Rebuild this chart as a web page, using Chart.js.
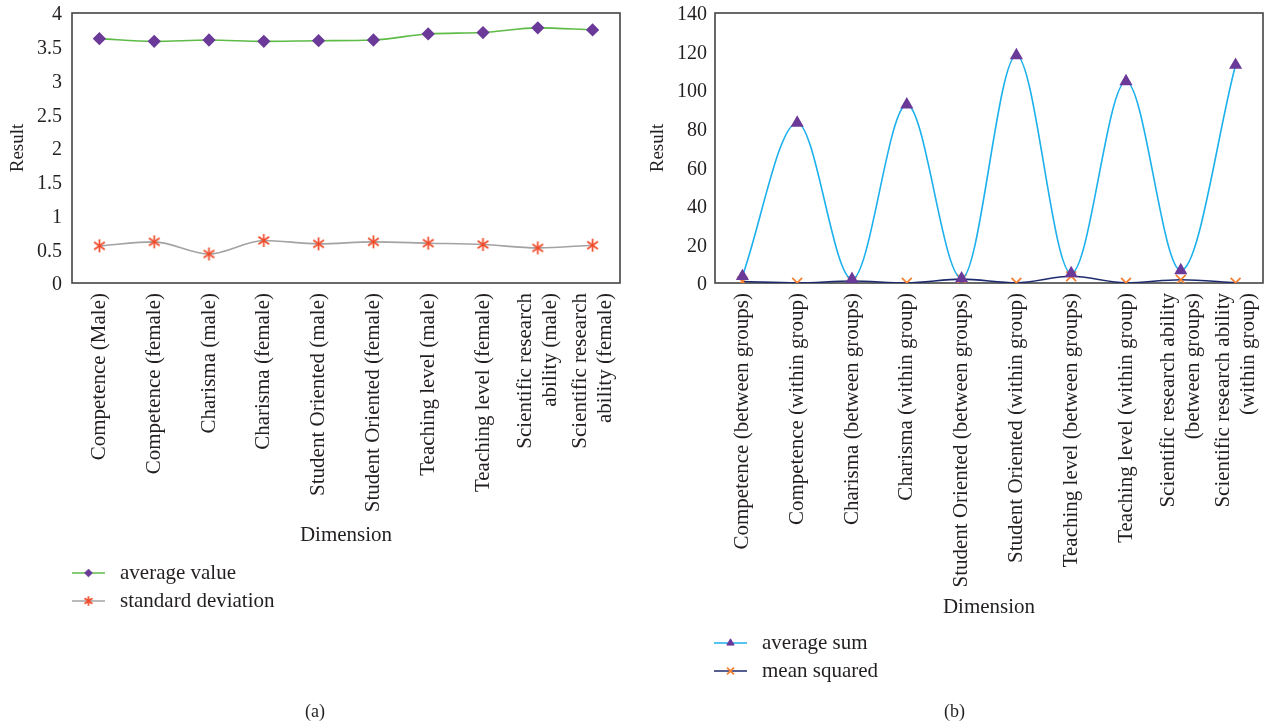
<!DOCTYPE html>
<html>
<head>
<meta charset="utf-8">
<script src="https://cdn.jsdelivr.net/npm/chart.js@4.4.1/dist/chart.umd.min.js"></script>
<style>
  body { margin: 0; background: #fff; width: 1266px; height: 727px; position: relative; overflow: hidden; }
  canvas { position: absolute; top: 0; }
  #leftChart { left: 0; }
  #rightChart { left: 640px; }
  .cap { position: absolute; top: 701px; font: 18px "Liberation Serif", serif; color: #231f20; }
</style>
</head>
<body>
<canvas id="leftChart" width="640" height="727"></canvas>
<canvas id="rightChart" width="626" height="727"></canvas>
<div class="cap" style="left:305px">(a)</div>
<div class="cap" style="left:944px">(b)</div>
<script>
const leftLabels = [
  'Competence (Male)', 'Competence (female)', 'Charisma (male)', 'Charisma (female)',
  'Student Oriented (male)', 'Student Oriented (female)', 'Teaching level (male)',
  'Teaching level (female)', ['Scientific research', 'ability (male)'], ['Scientific research', 'ability (female)']
];
const averageValue = [3.62, 3.58, 3.60, 3.58, 3.59, 3.60, 3.69, 3.71, 3.78, 3.75];
const standardDeviation = [0.55, 0.61, 0.43, 0.63, 0.58, 0.61, 0.59, 0.57, 0.52, 0.56];

const rightLabels = [
  'Competence (between groups)', 'Competence (within group)', 'Charisma (between groups)',
  'Charisma (within group)', 'Student Oriented (between groups)', 'Student Oriented (within group)',
  'Teaching level (between groups)', 'Teaching level (within group)',
  ['Scientific research ability', '(between groups)'], ['Scientific research ability', '(within group)']
];
const averageSum = [3.5, 83, 2, 92.5, 2.3, 118, 5, 104.5, 6.5, 113];
const meanSquared = [0.8, 0.1, 1, 0.1, 2, 0.1, 3.5, 0.1, 1.7, 0.1];

const SERIF = '"Liberation Serif", "Times New Roman", serif';
const TEXT = '#231f20';

// six-armed asterisk marker (an X with a vertical bar)
function asterisk(r, color) {
  const c = document.createElement('canvas');
  const s = Math.ceil(r * 2 + 4);
  c.width = s; c.height = s;
  const g = c.getContext('2d');
  g.strokeStyle = color;
  g.lineWidth = 1.7;
  g.translate(s / 2, s / 2);
  [90, 35, -35].forEach(deg => {
    const a = deg * Math.PI / 180;
    g.beginPath();
    g.moveTo(-Math.cos(a) * r, -Math.sin(a) * r);
    g.lineTo(Math.cos(a) * r, Math.sin(a) * r);
    g.stroke();
  });
  return c;
}
const starBig = asterisk(6.5, '#f04a2a');
const starSmall = asterisk(4.8, '#f04a2a');

// frame round the plot area
const boxPlugin = {
  id: 'box',
  beforeDatasetsDraw(chart) {
    const a = chart.chartArea, ctx = chart.ctx;
    ctx.save();
    ctx.strokeStyle = '#444';
    ctx.lineWidth = 1.6;
    ctx.strokeRect(a.left, a.top, a.right - a.left, a.bottom - a.top);
    ctx.restore();
  }
};

// two-line rotated labels: centre the lines on their tick
const centerLines = {
  id: 'centerLines',
  beforeDraw(chart) {
    const scale = chart.scales.x;
    scale.getLabelItems().forEach(item => {
      if (Array.isArray(item.label) && !item.shifted) {
        item.options.translation[0] -= (item.label.length - 1) * item.font.lineHeight / 2;
        item.shifted = true;
      }
    });
  }
};

// vertical legend under the x axis title
const sideLegend = {
  id: 'sideLegend',
  afterDraw(chart, args, opts) {
    const ctx = chart.ctx;
    ctx.save();
    chart.data.datasets.forEach((ds, i) => {
      const y = opts.y + i * 28;
      const mx = opts.x + 16.5;
      ctx.strokeStyle = ds.borderColor;
      ctx.lineWidth = 1.6;
      ctx.beginPath();
      ctx.moveTo(opts.x, y);
      ctx.lineTo(opts.x + 33, y);
      ctx.stroke();
      if (ds.legendImage) {
        const im = ds.legendImage;
        ctx.drawImage(im, mx - im.width / 2, y - im.height / 2);
      } else {
        ctx.fillStyle = ds.pointBackgroundColor;
        ctx.strokeStyle = ds.pointBorderColor;
        ctx.lineWidth = ds.pointBorderWidth || 1;
        Chart.helpers.drawPoint(ctx, {
          pointStyle: ds.pointStyle, radius: ds.pointRadius * 0.7, borderWidth: ds.pointBorderWidth || 1, rotation: 0
        }, mx, y);
      }
      ctx.fillStyle = TEXT;
      ctx.font = '21px ' + SERIF;
      ctx.textBaseline = 'middle';
      ctx.fillText(ds.label, opts.x + 48, y);
    });
    ctx.restore();
  }
};

function makeOptions(cfg) {
  return {
    responsive: false,
    animation: false,
    layout: { autoPadding: false, padding: { left: 7, top: 13, right: cfg.padRight, bottom: cfg.padBottom } },
    plugins: {
      legend: { display: false },
      tooltip: { enabled: false },
      sideLegend: { x: cfg.legendX, y: cfg.legendY }
    },
    scales: {
      x: {
        type: 'category',
        offset: true,
        grid: { display: false, drawTicks: false },
        border: { display: false },
        afterFit(scale) {
          scale.height = cfg.xHeight;
          scale.paddingLeft = 0;
          scale.paddingRight = 0;
        },
        ticks: {
          autoSkip: false, minRotation: 90, maxRotation: 90, padding: 10,
          color: TEXT, font: { family: SERIF, size: 21 }
        },
        title: { display: true, text: 'Dimension', color: TEXT, padding: 0, font: { family: SERIF, size: 21 } }
      },
      y: {
        min: 0, max: cfg.yMax,
        grid: { display: false, drawTicks: false },
        border: { display: false },
        afterFit(scale) {
          scale.width = cfg.yWidth;
          scale.paddingTop = 0;
          scale.paddingBottom = 0;
        },
        ticks: {
          stepSize: cfg.yStep, padding: cfg.yPad, labelOffset: 2, color: TEXT, font: { family: SERIF, size: 20 },
          callback: v => String(v)
        },
        title: { display: true, text: 'Result', color: TEXT, padding: 0, font: { family: SERIF, size: 19 } }
      }
    }
  };
}

new Chart(document.getElementById('leftChart'), {
  type: 'line',
  data: {
    labels: leftLabels,
    datasets: [
      {
        label: 'average value', data: averageValue,
        borderColor: '#5dbb46', borderWidth: 1.6, cubicInterpolationMode: 'monotone',
        pointStyle: 'rectRot', pointRadius: 5.5, pointBackgroundColor: '#6b3a99', pointBorderColor: '#6b3a99'
      },
      {
        label: 'standard deviation', data: standardDeviation,
        borderColor: '#a3a3a3', borderWidth: 1.6, cubicInterpolationMode: 'monotone',
        pointStyle: starBig, pointRadius: 7, legendImage: starSmall,
        pointBackgroundColor: '#f04a2a', pointBorderColor: '#f04a2a'
      }
    ]
  },
  options: makeOptions({
    padRight: 20, padBottom: 179, xHeight: 265, yMax: 4, yStep: 0.5, yWidth: 65, yPad: 10,
    legendX: 72, legendY: 573
  }),
  plugins: [boxPlugin, centerLines, sideLegend]
});

new Chart(document.getElementById('rightChart'), {
  type: 'line',
  data: {
    labels: rightLabels,
    datasets: [
      {
        label: 'average sum', data: averageSum,
        borderColor: '#1cb0ec', borderWidth: 1.6, cubicInterpolationMode: 'monotone',
        pointStyle: 'triangle', pointRadius: 6, pointBackgroundColor: '#6b3a99', pointBorderColor: '#6b3a99'
      },
      {
        label: 'mean squared', data: meanSquared,
        borderColor: '#1d2a6e', borderWidth: 1.6, cubicInterpolationMode: 'monotone',
        pointStyle: 'crossRot', pointRadius: 7, pointBorderWidth: 1.8,
        pointBackgroundColor: '#f58233', pointBorderColor: '#f58233'
      }
    ]
  },
  options: makeOptions({
    padRight: 3, padBottom: 107, xHeight: 337, yMax: 140, yStep: 20, yWidth: 68, yPad: 8,
    legendX: 74, legendY: 643
  }),
  plugins: [boxPlugin, centerLines, sideLegend]
});
</script>
</body>
</html>
